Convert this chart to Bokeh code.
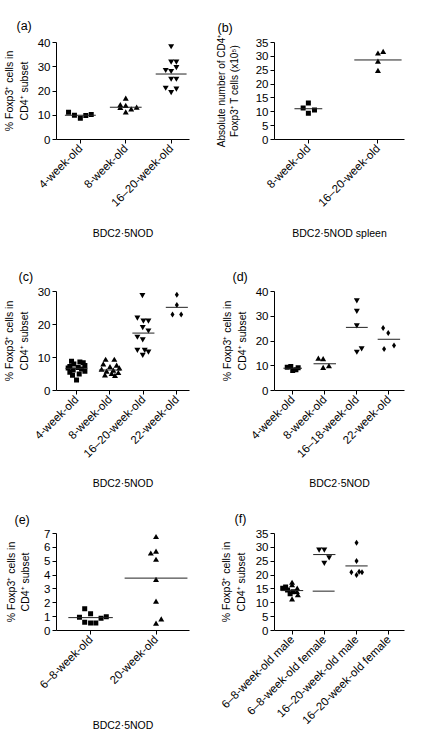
import math
from bokeh.plotting import figure
from bokeh.models import FixedTicker, Range1d, Title
from bokeh.layouts import gridplot
from bokeh.embed import file_html
from bokeh.resources import INLINE

FONT = "Liberation Sans"

# ---------------- data ----------------
# (a) BDC2.5NOD
a_categories = ["4-week-old", "8-week-old", "16–20-week-old"]
a_4wk = [11.2, 10.0, 8.8, 9.9, 10.3]
a_8wk = [16.7, 14.0, 13.7, 12.9, 12.3, 13.0, 11.0]
a_16_20wk = [38.6, 32.3, 32.3, 28.8, 28.4, 30.0, 25.2, 25.2, 21.5, 19.7, 21.1]
a_means = [10.0, 13.3, 27.0]
a_y_ticks = [0, 10, 20, 30, 40]

# (b) BDC2.5NOD spleen, absolute numbers (x10^5)
b_categories = ["8-week-old", "16–20-week-old"]
b_8wk = [11.4, 13.2, 9.5, 10.6]
b_16_20wk = [30.9, 31.5, 28.0, 24.6]
b_means = [11.1, 28.7]
b_y_ticks = [0, 5, 10, 15, 20, 25, 30, 35]

# (c) BDC2.5NOD
c_categories = ["4-week-old", "8-week-old", "16–20-week-old", "22-week-old"]
c_4wk = [8.9, 8.6, 8.4, 8.0, 7.6, 7.3, 7.0, 6.8, 6.5, 6.2, 5.8, 5.5, 5.0, 4.6, 3.2]
c_8wk = [9.2, 9.2, 7.8, 7.4, 7.0, 6.6, 6.2, 5.9, 5.6, 5.2, 4.9, 4.5, 4.3]
c_16_20wk = [29.0, 22.2, 21.3, 21.3, 19.3, 18.3, 16.4, 15.6, 12.4, 12.4, 11.9, 10.9]
c_22wk = [29.0, 25.9, 23.0, 23.0]
c_means = [6.7, 6.2, 17.4, 25.2]
c_y_ticks = [0, 10, 20, 30]

# (d) BDC2.5NOD
d_categories = ["4-week-old", "8-week-old", "16–18-week-old", "22-week-old"]
d_4wk = [9.4, 9.7, 8.1, 8.4, 9.2]
d_8wk = [12.7, 12.5, 9.0, 9.7]
d_16_18wk = [36.6, 32.3, 26.5, 15.8, 17.2]
d_22wk = [25.3, 23.2, 16.8, 18.2]
d_means = [9.0, 10.8, 25.5, 20.7]
d_y_ticks = [0, 10, 20, 30, 40]

# (e) BDC2.5NOD
e_categories = ["6–8-week-old", "20-week-old"]
e_6_8wk = [0.95, 1.57, 1.2, 0.6, 0.55, 0.55, 0.88, 1.0]
e_20wk = [6.72, 5.53, 5.67, 5.08, 3.62, 2.06, 0.47, 0.78]
e_means = [0.93, 3.78]
e_y_ticks = [0, 1, 2, 3, 4, 5, 6, 7]

# (f)
f_categories = ["6–8-week-old male", "6–8-week-old female",
                "16–20-week-old male", "16–20-week-old female"]
f_g1_squares = [15.2, 15.7, 14.6, 13.3, 14.0]
f_g1_triangles = [17.1, 11.1, 15.0, 12.6, 13.8, 16.2]
f_g2 = [29.3, 29.3, 26.5, 24.5]
f_g3 = [31.7, 25.1, 21.0, 21.2, 21.0, 20.0]
f_means = [14.4, 27.4, 23.3]
f_extra_line = [14.2]
f_y_ticks = [0, 5, 10, 15, 20, 25, 30, 35]

# ---------------- horizontal scatter (jitter) of the points ----------------
a_4wk_dx = [-0.26, -0.13, 0.0, 0.12, 0.24]
a_8wk_dx = [0.0, -0.12, 0.0, -0.12, 0.12, 0.24, 0.0]
a_16_dx = [0.0, 0.0, 0.115, -0.12, 0.0, 0.115, 0.0, 0.115, -0.12, 0.0, 0.115]
b_8_dx = [-0.075, 0.0, 0.0, 0.088]
b_16_dx = [0.0, 0.075, 0.0, 0.0]
c_4_dx = [-0.15, 0.1, 0.2, -0.08, 0.25, -0.2, 0.05, -0.25, 0.15, -0.1, 0.25, -0.2, 0.08, -0.12, 0.0]
c_8_dx = [-0.13, 0.13, -0.2, 0.2, 0.0, 0.28, -0.25, 0.1, -0.1, 0.25, 0.05, -0.15, 0.15]
c_16_dx = [-0.03, -0.18, 0.0, 0.15, -0.02, 0.15, -0.18, -0.02, -0.18, 0.04, 0.15, -0.02]
c_22_dx = [0.0, 0.0, -0.13, 0.13]
d_4_dx = [-0.17, -0.06, 0.0, 0.1, 0.17]
d_8_dx = [-0.2, -0.05, -0.05, 0.13]
d_16_dx = [0.0, 0.0, 0.0, 0.0, 0.15]
d_22_dx = [-0.18, -0.02, -0.15, 0.16]
e_6_dx = [-0.17, -0.09, 0.0, -0.09, 0.0, 0.08, 0.16, 0.24]
e_20_dx = [0.0, -0.08, 0.0, 0.0, 0.0, 0.0, 0.0, 0.08]
f_g1_sq_dx = [-0.29, -0.2, -0.14, -0.06, 0.03]
f_g1_tri_dx = [0.0, 0.0, 0.16, 0.18, 0.15, 0.0]
f_g2_dx = [-0.16, 0.0, 0.15, 0.0]
f_g3_dx = [0.0, 0.0, -0.16, 0.08, 0.17, 0.0]

YLAB = "% Foxp3⁺ cells in\nCD4⁺ subset"
YLAB_B = "Absolute number of CD4⁺\nFoxp3⁺ T cells (x10⁵)"
XLAB = "BDC2·5NOD"

MARKER_SIZE = {"square": 5, "triangle": 6, "inverted_triangle": 6, "diamond": 6}


def make_panel(letter, cats, y_ticks, groups, means, halfw, ylabel, xlabel,
               size, frame, tick1, spacing, letter_x, letter_standoff,
               ylab_standoff, ylab_size, xlab_center, xlab_gap):
    w, h = size
    L, R, T, B = frame
    x_start = 1 - (tick1 - L) / spacing
    x_end = 1 + (R - tick1) / spacing
    y0, y1 = y_ticks[0], y_ticks[-1]
    p = figure(width=w, height=h, output_backend="svg", toolbar_location=None,
               x_range=Range1d(x_start, x_end), y_range=Range1d(y0, y1),
               min_border_left=L, min_border_right=w - R,
               min_border_top=T, min_border_bottom=h - B,
               background_fill_color="white", border_fill_color="white",
               outline_line_color=None, tools="", title=letter)
    p.xgrid.visible = False
    p.ygrid.visible = False

    for gi, vals, dxs, marker in groups:
        p.scatter(x=[gi + d for d in dxs], y=vals, marker=marker,
                  size=MARKER_SIZE[marker], color="black", line_width=0)
    for i, m in enumerate(means):
        hw = halfw[i]
        gx = i + 1
        p.segment(x0=[gx - hw], x1=[gx + hw], y0=[m], y1=[m],
                  line_color="#222222", line_width=1)

    xa = p.xaxis[0]
    xa.ticker = FixedTicker(ticks=list(range(1, len(cats) + 1)))
    xa.major_label_overrides = {i + 1: c for i, c in enumerate(cats)}
    xa.major_label_orientation = math.pi / 4
    xa.major_label_text_font = FONT
    xa.major_label_text_font_size = "11.5px"
    xa.major_label_text_color = "black"
    xa.major_label_standoff = 3
    xa.minor_tick_line_color = None
    xa.major_tick_in = 0
    xa.major_tick_out = 4
    xa.axis_line_color = "black"
    xa.major_tick_line_color = "black"

    ya = p.yaxis[0]
    ya.ticker = FixedTicker(ticks=y_ticks)
    ya.major_label_text_font = FONT
    ya.major_label_text_font_size = "11.5px"
    ya.major_label_text_color = "black"
    ya.major_label_standoff = 2
    ya.minor_tick_line_color = None
    ya.major_tick_in = 0
    ya.major_tick_out = 4
    ya.axis_line_color = "black"
    ya.major_tick_line_color = "black"
    ya.axis_label = ylabel
    ya.axis_label_text_font = FONT
    ya.axis_label_text_font_size = ylab_size
    ya.axis_label_text_font_style = "normal"
    ya.axis_label_text_color = "black"
    ya.axis_label_standoff = ylab_standoff

    p.title.align = "left"
    p.title.offset = letter_x - L
    p.title.text_font = FONT
    p.title.text_font_size = "12.5px"
    p.title.text_font_style = "normal"
    p.title.text_color = "black"
    p.title.standoff = letter_standoff

    if xlabel:
        # invisible spacer between the tick labels and the group caption
        xa.axis_label = "\u00a0"
        xa.axis_label_text_font_size = "1px"
        xa.axis_label_standoff = xlab_gap
        t = Title(text=xlabel, align="center", offset=xlab_center - (L + R) / 2,
                  text_font=FONT, text_font_size="10.5px", text_font_style="normal",
                  text_color="black", standoff=0)
        p.add_layout(t, "below")
    return p


pa = make_panel("(a)", a_categories, a_y_ticks,
                [(1, a_4wk, a_4wk_dx, "square"), (2, a_8wk, a_8wk_dx, "triangle"),
                 (3, a_16_20wk, a_16_dx, "inverted_triangle")],
                a_means, [0.34, 0.35, 0.34], YLAB, XLAB,
                (209, 240), (44, 189, 42, 140), 70, 49.5, 4, 18.5, 5, "10.5px", 102, 5)

pb = make_panel("(b)", b_categories, b_y_ticks,
                [(1, b_8wk, b_8_dx, "square"), (2, b_16_20wk, b_16_dx, "triangle")],
                b_means, [0.2, 0.34], YLAB_B, XLAB + " spleen",
                (209, 240), (65, 207, 39, 139), 102, 76, 8, 15.5, 13, "10px", 120, 5)

pc = make_panel("(c)", c_categories, c_y_ticks,
                [(1, c_4wk, c_4_dx, "square"), (2, c_8wk, c_8_dx, "triangle"),
                 (3, c_16_20wk, c_16_dx, "inverted_triangle"), (4, c_22wk, c_22_dx, "diamond")],
                c_means, [0.33] * 4, YLAB, XLAB,
                (209, 250), (42, 190, 51, 150), 64.3, 37.2, 4, 16, 5, "10.5px", 104, 4)

pd_ = make_panel("(d)", d_categories, d_y_ticks,
                 [(1, d_4wk, d_4_dx, "square"), (2, d_8wk, d_8_dx, "triangle"),
                  (3, d_16_18wk, d_16_dx, "inverted_triangle"), (4, d_22wk, d_22_dx, "diamond")],
                 d_means, [0.29, 0.35, 0.34, 0.35], YLAB, XLAB,
                 (209, 250), (45, 195, 51, 150), 66, 37, 3, 16, 5, "10.5px", 108, 4)

pe = make_panel("(e)", e_categories, e_y_ticks,
                [(1, e_6_8wk, e_6_dx, "square"), (2, e_20wk, e_20_dx, "triangle")],
                e_means, [0.34, 0.48], YLAB, XLAB,
                (209, 246), (44, 195, 41, 140), 82.7, 74.3, 2, 14, 10, "10.5px", 105, 15)

pf = make_panel("(f)", f_categories, f_y_ticks,
                [(1, f_g1_squares, f_g1_sq_dx, "square"), (1, f_g1_triangles, f_g1_tri_dx, "triangle"),
                 (2, f_g2, f_g2_dx, "inverted_triangle"), (3, f_g3, f_g3_dx, "diamond")],
                f_means, [0.345] * 3, YLAB, None,
                (209, 246), (47, 195, 43, 141), 67, 36.7, 7, 16, 6, "10.5px", 0, 0)
# the second horizontal line drawn in group 2 of panel (f)
pf.segment(x0=[2 - 0.36], x1=[2 + 0.32], y0=f_extra_line, y1=f_extra_line,
           line_color="#222222", line_width=1)

grid = gridplot([[pa, pb], [pc, pd_], [pe, pf]], toolbar_location=None)

open("out.html", "w").write(file_html(grid, INLINE))
